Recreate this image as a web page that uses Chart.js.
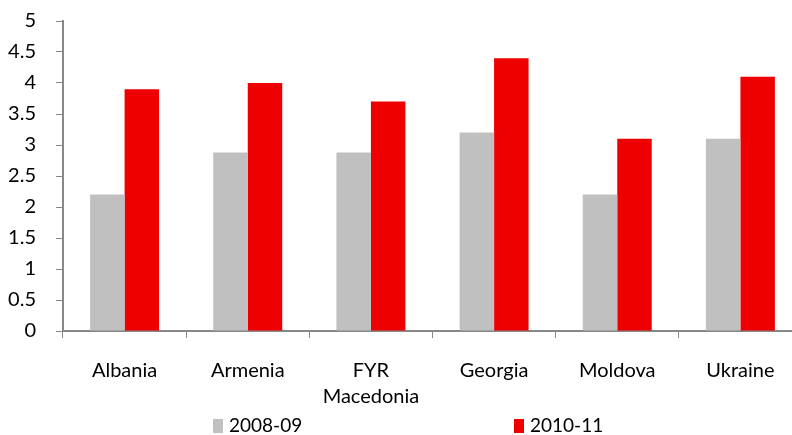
<!DOCTYPE html>
<html lang="en">
<head>
    <meta charset="UTF-8">
    <title>2008-09 vs 2010-11</title>
    <script src="https://cdn.jsdelivr.net/npm/chart.js"></script>
    <style>
        html, body { margin: 0; padding: 0; overflow: hidden; background: #fff; }
        #wrap { width: 810px; height: 435px; }
    </style>
</head>
<body>
    <div id="wrap"><canvas id="chart"></canvas></div>

    <script>
        // data
        const countries = ["Albania", "Armenia", ["FYR", "Macedonia"], "Georgia", "Moldova", "Ukraine"];
        const seriesNames = ["2008-09", "2010-11"];
        const values0809 = [2.2, 2.88, 2.88, 3.2, 2.2, 3.1];
        const values1011 = [3.9, 4.0, 3.7, 4.4, 3.1, 4.1];
        const yTicks = [0, 0.5, 1, 1.5, 2, 2.5, 3, 3.5, 4, 4.5, 5];

        const FONT = "Lato, 'Liberation Sans', sans-serif";
        const AXIS = "#878787";

        // legend drawn by hand so the two entries sit far apart like in the original
        const spreadLegend = {
            id: "spreadLegend",
            afterDraw(chart) {
                const ctx = chart.ctx;
                const spots = [213, 514];
                ctx.save();
                ctx.font = "19px " + FONT;
                ctx.textBaseline = "middle";
                chart.data.datasets.forEach((ds, i) => {
                    ctx.fillStyle = ds.backgroundColor;
                    ctx.fillRect(spots[i], 419, 10, 14);
                    ctx.fillStyle = "#000";
                    ctx.fillText(ds.label, spots[i] + 16, 426);
                });
                ctx.restore();
            }
        };

        new Chart(document.getElementById("chart"), {
            type: "bar",
            data: {
                labels: countries,
                datasets: [
                    { label: seriesNames[0], data: values0809, backgroundColor: "#C0C0C0" },
                    { label: seriesNames[1], data: values1011, backgroundColor: "#EE0000" }
                ]
            },
            options: {
                responsive: true,
                maintainAspectRatio: false,
                animation: false,
                layout: { padding: { top: 21, right: 8, bottom: 24, left: 0 } },
                categoryPercentage: 0.56,
                barPercentage: 1.0,
                plugins: {
                    legend: { display: false },
                    tooltip: { enabled: false }
                },
                scales: {
                    x: {
                        afterFit: s => { s.height = 80; },
                        grid: { display: true, drawOnChartArea: false, offset: true, color: AXIS, tickLength: 7, tickColor: AXIS },
                        border: { color: AXIS, width: 2 },
                        ticks: { color: "#000", font: { family: FONT, size: 20, lineHeight: 1.3 }, padding: 20, maxRotation: 0 }
                    },
                    y: {
                        min: 0,
                        max: 5,
                        afterFit: s => { s.width = 63; s.paddingTop = 0; s.paddingBottom = 0; },
                        afterBuildTicks: s => { s.ticks = yTicks.map(v => ({ value: v })); },
                        grid: { display: true, drawOnChartArea: false, color: AXIS, tickLength: 7 },
                        border: { color: AXIS, width: 2 },
                        ticks: { color: "#000", font: { family: FONT, size: 20 }, padding: 20, callback: v => String(v) }
                    }
                }
            },
            plugins: [spreadLegend]
        });
    </script>
</body>
</html>
